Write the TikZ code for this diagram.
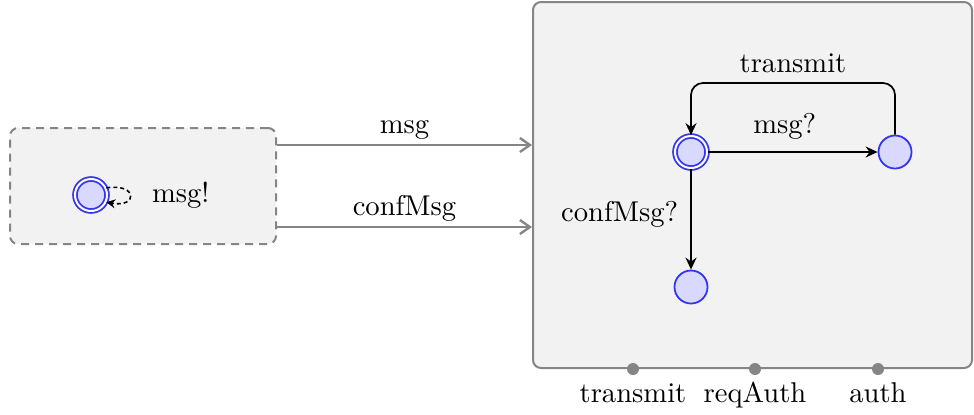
\documentclass[tikz,border=0pt]{standalone}
\usepackage{fontspec}
\setmainfont{lmroman10-regular.otf}
\usetikzlibrary{arrows.meta}
\definecolor{boxgray}{HTML}{F2F2F2}
\definecolor{linegray}{HTML}{858585}
\definecolor{locblue}{HTML}{3535F0}
\definecolor{locfill}{HTML}{D9D9FF}
\tikzset{
  loc/.style={draw=locblue, fill=locfill, circle, line width=0.9pt, minimum size=16.5pt, inner sep=0pt},
  initloc/.style={loc, minimum size=16pt, double=white, double distance=1pt},
  tmpl/.style={draw=linegray, fill=boxgray, line width=1pt, rounded corners=4pt, inner sep=0pt},
  chan/.style={draw=linegray, line width=1.2pt, -{Straight Barb[length=5pt,width=7pt]}},
  trans/.style={draw, line width=0.85pt, -{Stealth[length=6pt,width=5.5pt,inset=2pt]}},
  port/.style={circle, fill=linegray, minimum size=6pt, inner sep=0pt}
}
\begin{document}
\begin{tikzpicture}[x=0.5pt, y=-0.5pt, font=\fontsize{14.3}{17}\selectfont]
\path[use as bounding box] (0,0) rectangle (974,414);

% sender
\node[tmpl, dashed, dash pattern=on 4pt off 3pt, minimum width=133pt, minimum height=58pt] (sender) at (143,186) {};
\node[initloc] (sinit) at (91,195) {};
\draw[dashed, dash pattern=on 2pt off 1.5pt, line width=0.8pt, -{Stealth[length=4.5pt,width=4.5pt,inset=1.5pt]}] (sinit.25) .. controls (138,183) and (138,208) .. (sinit.-25);
\node[anchor=west] (sendlbl) at (145,195) {msg!};

% receiver
\node[tmpl, minimum width=219.5pt, minimum height=183pt] (recv) at (752.5,185) {};
\node[initloc] (r0) at (691,152) {};
\node[loc] (r1) at (895,152) {};
\node[loc] (r2) at (691,287) {};
\coordinate (rtop) at (793,83);

\draw[trans] (r0) -- node[above, inner sep=6pt, xshift=-4pt] {msg?} (r1);
\draw[trans, rounded corners=6pt] (r1.north) |- (rtop) -| (r0.north);
\node[above, inner sep=5pt] at (rtop) {transmit};
\draw[trans] (r0) -- node[left, inner sep=6pt, pos=0.45] {confMsg?} (r2);

% channels
\draw[chan] (sender.east |- 0,145) -- node[above, inner sep=2pt] {msg} (recv.west |- 0,145);
\draw[chan] (sender.east |- 0,227) -- node[above, inner sep=2pt] {confMsg} (recv.west |- 0,227);

% ports
\node[port] (p1) at (recv.south -| 633,0) {};
\node[port] (p2) at (recv.south -| 755,0) {};
\node[port] (p3) at (recv.south -| 878,0) {};
\node[anchor=base] at (633,402) {transmit};
\node[anchor=base] at (755,402) {reqAuth};
\node[anchor=base] at (878,402) {auth};
\end{tikzpicture}
\end{document}
